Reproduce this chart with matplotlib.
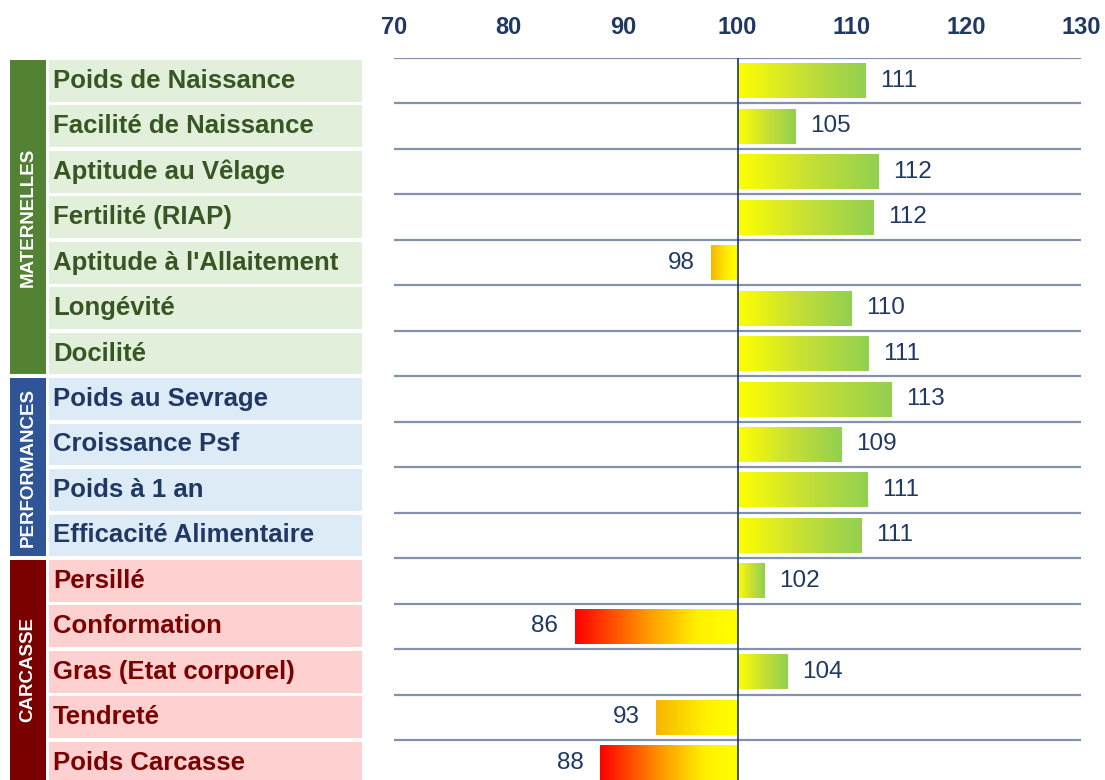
import numpy as np
import matplotlib
matplotlib.use("Agg")
import matplotlib.pyplot as plt
from matplotlib import font_manager
from matplotlib.colors import LinearSegmentedColormap
from matplotlib.patches import Rectangle

# Données
criteres = ["Poids de Naissance", "Facilité de Naissance", "Aptitude au Vêlage",
            "Fertilité (RIAP)", "Aptitude à l'Allaitement", "Longévité", "Docilité",
            "Poids au Sevrage", "Croissance Psf", "Poids à 1 an", "Efficacité Alimentaire",
            "Persillé", "Conformation", "Gras (Etat corporel)", "Tendreté", "Poids Carcasse"]
valeurs = [111.1, 105.0, 112.3, 111.8, 97.7, 109.9, 111.4,
           113.4, 109.0, 111.3, 110.8,
           102.3, 85.8, 104.3, 92.9, 88.0]
etiquettes = ["111", "105", "112", "112", "98", "110", "111",
              "113", "109", "111", "111",
              "102", "86", "104", "93", "88"]
groupes = ["MATERNELLES", "PERFORMANCES", "CARCASSE"]
taille_groupes = [7, 4, 5]
ticks = [70, 80, 90, 100, 110, 120, 130]

# Couleurs par groupe : bande, fond, texte
couleurs_bande = ["#548235", "#2F5597", "#7B0000"]
couleurs_fond = ["#E2EFDA", "#DDEBF7", "#FFD0D0"]
couleurs_texte = ["#375623", "#1F3864", "#7B0000"]
navy = "#1F3864"

for f in font_manager.fontManager.ttflist:
    if f.stretch not in ("normal", 500) or "Cond" in f.fname or "Narrow" in f.fname:
        print(f.name, f.stretch, f.weight, f.fname)

plt.rcParams['font.family'] = ['Liberation Sans', 'DejaVu Sans']

W, H = 1105, 780
fig = plt.figure(figsize=(W / 100, H / 100), dpi=100)

n = len(criteres)
row_h = 45.47
top = 58
ymax = n - 0.5 - (top + n * row_h - H) / row_h  # bas coupé de l'image

# Axe principal
x0, x1 = 394, 1081
ax = fig.add_axes([x0 / W, 0, (x1 - x0) / W, 1 - top / H])
ax.set_xlim(70, 130)
ax.set_ylim(ymax, -0.5)
for s in ax.spines.values():
    s.set_visible(False)
ax.xaxis.tick_top()
ax.set_xticks(ticks)
ax.set_xticklabels([str(t) for t in ticks], fontsize=17,
                   fontweight="bold", color=navy)
ax.tick_params(axis="x", length=0, pad=14)
ax.set_yticks([])

# lignes de séparation
for k in range(n + 1):
    ax.axhline(k - 0.5, color="#8292AC", lw=1.6, zorder=1)

cmap_pos = LinearSegmentedColormap.from_list("pos", ["#FFFF00", "#C8E034", "#92D050"])
cmap_neg_fort = LinearSegmentedColormap.from_list("negf", [(0, "#FF0000"), (0.45, "#FF9A00"),
                                                            (0.75, "#FFF000"), (1, "#FFFF00")])
cmap_neg_faible = LinearSegmentedColormap.from_list("negl", [(0, "#F8B400"), (0.6, "#FFF000"),
                                                             (1, "#FFFF00")])

y = np.arange(n)
bars = ax.barh(y, np.array(valeurs) - 100, left=100, height=0.77,
               color="none", edgecolor="none", zorder=2)
grad = np.linspace(0, 1, 256).reshape(1, -1)
for i, (b, v) in enumerate(zip(bars, valeurs)):
    if v >= 100:
        cm = cmap_pos
        ext = [100, v, i + 0.385, i - 0.385]
    else:
        cm = cmap_neg_fort if v < 90 else cmap_neg_faible
        ext = [v, 100, i + 0.385, i - 0.385]
    im = ax.imshow(grad, extent=ext, aspect="auto", cmap=cm, zorder=2,
                   interpolation="bilinear")
    im.set_clip_path(b)
    if v >= 100:
        ax.annotate(etiquettes[i], xy=(v, i), xytext=(11, 0), textcoords="offset points",
                    ha="left", va="center", fontsize=17.5, color=navy)
    else:
        ax.annotate(etiquettes[i], xy=(v, i), xytext=(-12, 0), textcoords="offset points",
                    ha="right", va="center", fontsize=17.5, color=navy)
ax.set_xlim(70, 130)
ax.set_ylim(ymax, -0.5)
ax.axvline(100, color=navy, lw=1.2, zorder=3)

# Panneau gauche : groupes et libellés
axl = fig.add_axes([0, 0, x0 / W, 1 - top / H])
axl.set_xlim(0, x0)
axl.set_ylim(ymax, -0.5)
axl.axis("off")
gap = 0.04
debut = 0
for g, (nom, nb) in enumerate(zip(groupes, taille_groupes)):
    axl.add_patch(Rectangle((10, debut - 0.5 + gap), 36, nb - 2 * gap,
                            facecolor=couleurs_bande[g], edgecolor="none"))
    centre = debut - 0.5 + nb / 2
    if g == 2:
        centre = min(centre, (debut - 0.5 + ymax) / 2)
    axl.text(28, centre, nom, rotation=90, ha="center", va="center", color="white",
             fontsize=13.5, fontweight="bold")
    for i in range(debut, debut + nb):
        axl.add_patch(Rectangle((49, i - 0.5 + gap), 313, 1 - 2 * gap,
                                facecolor=couleurs_fond[g], edgecolor="none"))
        axl.text(53, i, criteres[i], ha="left", va="center", fontsize=18.5,
                 fontweight="bold", color=couleurs_texte[g])
    debut += nb

fig.savefig("out.png", dpi=100)
